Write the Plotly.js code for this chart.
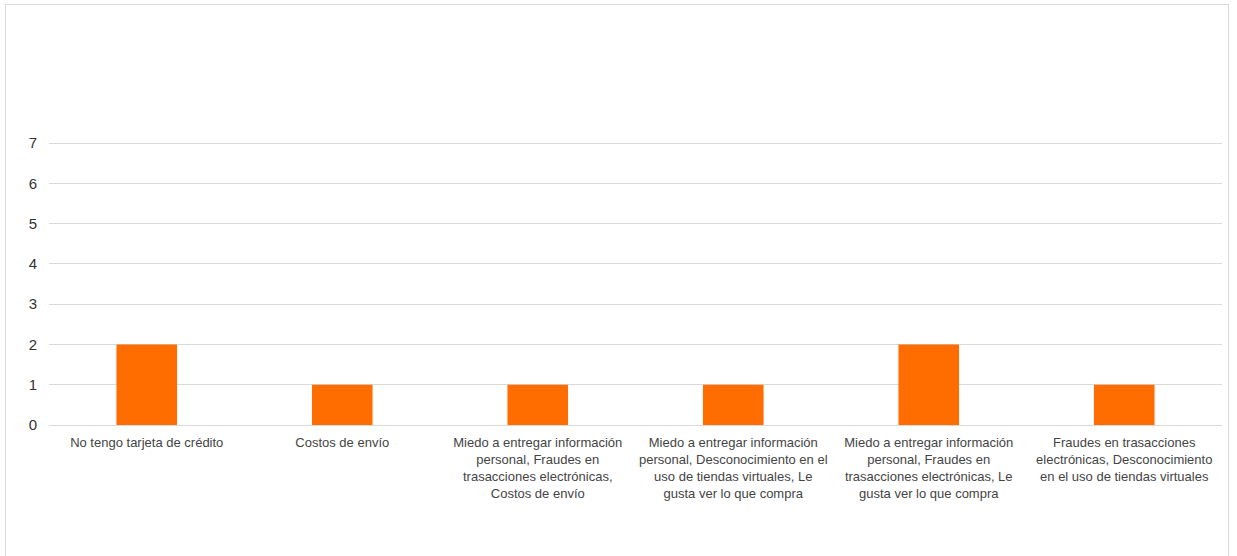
<!DOCTYPE html>
<html>
<head>
<meta charset="utf-8">
<script src="https://cdn.plot.ly/plotly-3.0.1.min.js"></script>
<style>
html,body{margin:0;padding:0;background:#fff;}
#wrap{position:relative;width:1237px;height:556px;overflow:hidden;}
#chart{position:absolute;left:0;top:0;width:1237px;height:556px;}
#frame{position:absolute;left:5px;top:4px;width:1222px;height:600px;border:1px solid #d9d9d9;pointer-events:none;z-index:10;}
</style>
</head>
<body>
<div id="wrap"><div id="chart"></div><div id="frame"></div></div>
<script>
const categories = [
  "No tengo tarjeta de crédito",
  "Costos de envío",
  "Miedo a entregar información<br>personal, Fraudes en<br>trasacciones electrónicas,<br>Costos de envío",
  "Miedo a entregar información<br>personal, Desconocimiento en el<br>uso de tiendas virtuales, Le<br>gusta ver lo que compra",
  "Miedo a entregar información<br>personal, Fraudes en<br>trasacciones electrónicas, Le<br>gusta ver lo que compra",
  "Fraudes en trasacciones<br>electrónicas, Desconocimiento<br>en el uso de tiendas virtuales"
];
const values = [2, 1, 1, 1, 2, 1];
const yTicks = [0, 1, 2, 3, 4, 5, 6, 7];

const trace = {
  type: "bar",
  x: categories,
  y: values,
  marker: {color: "#ff6d01"},
  hoverinfo: "none"
};

const layout = {
  width: 1237,
  height: 556,
  margin: {l: 49, r: 15, t: 139, b: 131},
  paper_bgcolor: "#ffffff",
  plot_bgcolor: "#ffffff",
  bargap: 0.69,
  showlegend: false,
  font: {family: "Liberation Sans, Arial, sans-serif", color: "#444444"},
  xaxis: {
    type: "category",
    tickangle: 0,
    showgrid: false,
    showline: false,
    zeroline: false,
    ticks: "",
    ticklabelstandoff: 8,
    tickfont: {size: 13, color: "#444444"},
    automargin: false
  },
  yaxis: {
    range: [0, 7.1],
    tickvals: yTicks,
    ticktext: yTicks.map(String),
    showgrid: true,
    gridcolor: "#d9d9d9",
    gridwidth: 1,
    zeroline: true,
    zerolinecolor: "#d9d9d9",
    zerolinewidth: 1,
    showline: false,
    ticks: "",
    ticklabelstandoff: 11,
    tickfont: {size: 15, color: "#333333"},
    automargin: false
  }
};

Plotly.newPlot("chart", [trace], layout, {staticPlot: true, displayModeBar: false});
</script>
</body>
</html>
